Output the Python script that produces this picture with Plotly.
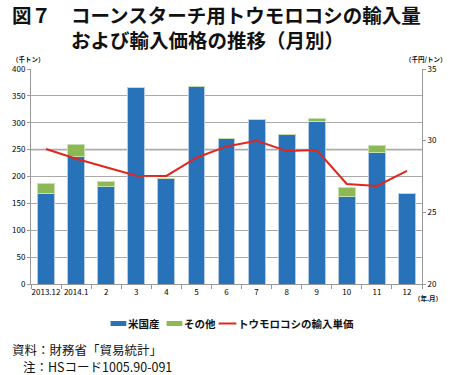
import plotly.graph_objects as go

categories = ["2013.12", "2014.1", "2", "3", "4", "5", "6", "7", "8", "9", "10", "11", "12"]
us_volume = [168, 237, 181, 366, 196, 367, 271, 306, 279, 302, 162, 245, 169]
other_volume = [19, 23, 9, 0, 0, 0, 0, 0, 0, 6, 17, 12, 0]
unit_price = [29.42, 28.74, 28.14, 27.56, 27.54, 28.81, 29.6, 30.0, 29.28, 29.35, 26.98, 26.84, 27.9]
series_names = ["米国産", "その他", "トウモロコシの輸入単価"]

FONT = "Noto Sans CJK JP"
BLUE = "#2872b9"
GREEN = "#8cb855"
RED = "#e2261c"

fig = go.Figure()
fig.add_trace(go.Bar(x=categories, y=us_volume, name=series_names[0], showlegend=False,
                     marker=dict(color=BLUE, line=dict(color="#b4cbe8", width=1))))
fig.add_trace(go.Bar(x=categories, y=other_volume, name=series_names[1], showlegend=False,
                     marker=dict(color=GREEN, line=dict(color="#c9deb0", width=1))))
fig.add_trace(go.Scatter(x=categories, y=unit_price, name=series_names[2], mode="lines", showlegend=False,
                         line=dict(color=RED, width=2), yaxis="y2"))

W, H = 450, 375
l, r, t, b = 24, 28, 69, 91
pw, ph = W - l - r, H - t - b
def px(x):
    return (x - l) / pw
def py(y):
    return 1 - (y - t) / ph

fig.update_layout(
    width=450, height=375,
    margin=dict(l=l, r=r, t=t, b=b),
    paper_bgcolor="white", plot_bgcolor="white",
    barmode="stack", bargap=0.44,
    font=dict(family=FONT, color="#000"),
    showlegend=False,
    xaxis=dict(type="category", showline=True, linecolor="#999", linewidth=1, ticks="outside",
               tickson="boundaries", ticklen=4, tickcolor="#999", showgrid=False, tickangle=0,
               tickfont=dict(size=8, family=FONT, color="#000")),
    yaxis=dict(range=[0, 400], dtick=50, showgrid=True, gridcolor="#aaaaaa", gridwidth=1,
               showline=True, linecolor="#999", ticks="outside", ticklen=3, tickcolor="#999",
               tickfont=dict(size=8, family=FONT, color="#000"), zeroline=False),
    yaxis2=dict(range=[20, 35], dtick=5, overlaying="y", side="right", showgrid=False,
                showline=True, linecolor="#999", ticks="outside", ticklen=3, tickcolor="#999",
                tickfont=dict(size=8, family=FONT, color="#000"), zeroline=False),
)

fig.add_shape(type="line", xref="paper", x0=0, x1=1, yref="y", y0=250, y1=250,
              line=dict(color="#d6d6d6", width=2.5), layer="below")

# custom legend (compact, like the reference)
fig.add_shape(type="rect", xref="paper", yref="paper", x0=px(105), x1=px(121), y0=py(321), y1=py(326),
              fillcolor=BLUE, line=dict(width=0))
fig.add_shape(type="rect", xref="paper", yref="paper", x0=px(162), x1=px(178), y0=py(321), y1=py(326),
              fillcolor=GREEN, line=dict(width=0))
fig.add_shape(type="line", xref="paper", yref="paper", x0=px(215), x1=px(233), y0=py(323.5), y1=py(323.5),
              line=dict(color=RED, width=2))

annots = [
    dict(x=3, y=14, text="<b>図７</b>", size=19.5),
    dict(x=63, y=26.5, text="<b>コーンスターチ用トウモロコシの輸入量<br>および輸入価格の推移（月別）</b>", size=19.5),
    dict(x=3, y=59, text="<b>（千トン）</b>", size=6.5),
    dict(x=403, y=59, text="<b>（千円/トン）</b>", size=6.5),
    dict(x=412, y=298, text="<b>（年.月）</b>", size=6.5),
    dict(x=121, y=323.5, text="<b>" + series_names[0] + "</b>", size=10.5),
    dict(x=178, y=323.5, text="<b>" + series_names[1] + "</b>", size=10.5),
    dict(x=233, y=323.5, text="<b>" + series_names[2] + "</b>", size=10.5),
    dict(x=3, y=349, text="資料：財務省「貿易統計」", size=12.5),
    dict(x=14, y=366, text="注：HSコード1005.90-091", size=12.5),
]
for a in annots:
    fig.add_annotation(x=px(a["x"]), y=py(a["y"]), xref="paper", yref="paper",
                       text=a["text"], showarrow=False, xanchor="left", yanchor="middle", align="left",
                       font=dict(size=a["size"], family=FONT, color="#111"))

fig.write_html("out.html", config={"displayModeBar": False},
               post_script="document.body.style.margin='0';document.body.style.padding='0';")
